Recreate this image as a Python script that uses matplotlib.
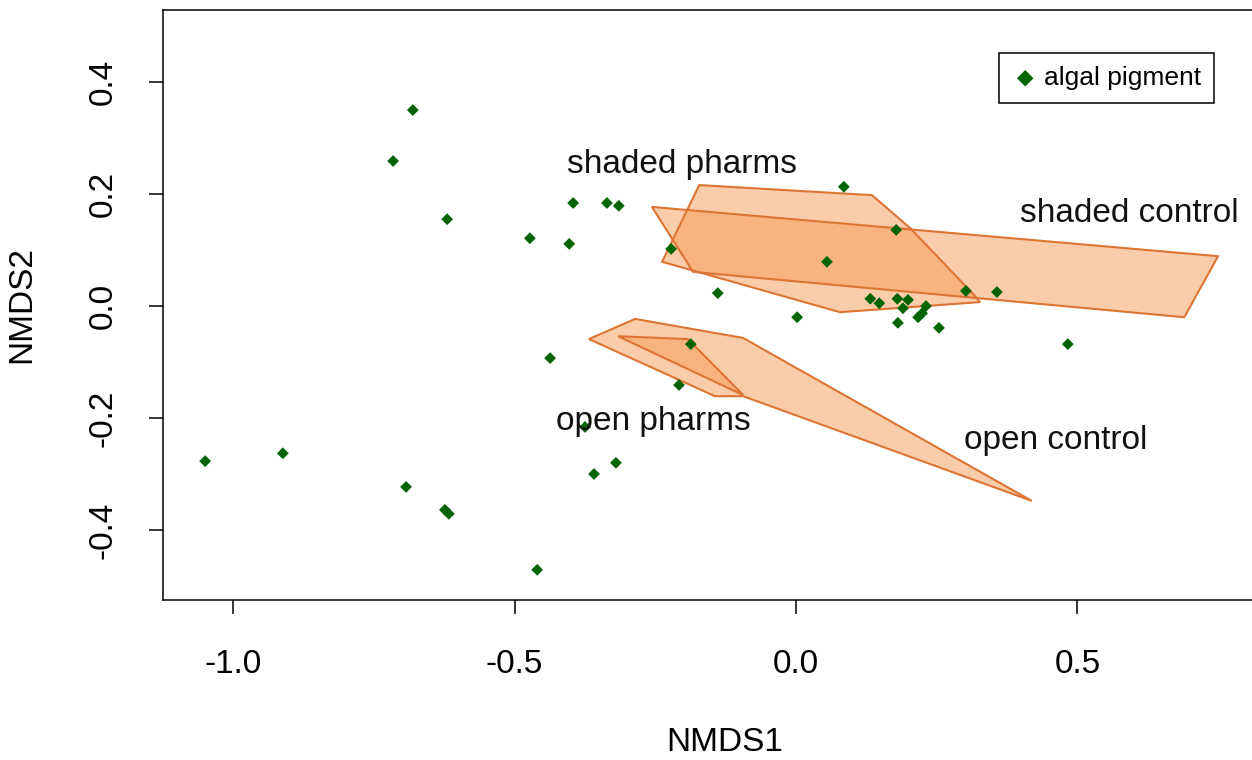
import matplotlib
matplotlib.use("Agg")
import matplotlib.pyplot as plt
from matplotlib.patches import Polygon

plt.rcParams["font.family"] = ["Liberation Sans", "DejaVu Sans"]
plt.rcParams["axes.unicode_minus"] = False

# site scores (algal pigment)
nmds1 = [-1.050, -0.912, -0.681, -0.716, -0.620, -0.693, -0.624, -0.617, -0.460,
         -0.473, -0.403, -0.396, -0.336, -0.315, -0.437, -0.375, -0.320, -0.359,
         -0.187, -0.208, -0.222, -0.139, 0.085, 0.178, 0.055, 0.002, 0.132,
         0.148, 0.180, 0.199, 0.190, 0.231, 0.224, 0.217, 0.181, 0.254,
         0.302, 0.357, 0.483]
nmds2 = [-0.277, -0.263, 0.350, 0.259, 0.155, -0.323, -0.364, -0.371, -0.471,
         0.121, 0.111, 0.184, 0.184, 0.179, -0.093, -0.216, -0.280, -0.300,
         -0.068, -0.141, 0.102, 0.023, 0.213, 0.136, 0.079, -0.020, 0.013,
         0.005, 0.013, 0.011, -0.004, 0.000, -0.013, -0.020, -0.030, -0.039,
         0.027, 0.025, -0.068]

# hull outlines per group
shaded_pharms = [(-0.172, 0.216), (0.135, 0.198), (0.203, 0.139), (0.318, 0.018),
                 (0.327, 0.007), (0.078, -0.011), (-0.238, 0.079)]
shaded_control = [(-0.256, 0.177), (0.750, 0.089), (0.690, -0.020), (-0.183, 0.061)]
open_control = [(-0.368, -0.059), (-0.286, -0.023), (-0.094, -0.057), (0.419, -0.348),
                (-0.094, -0.161), (-0.144, -0.161)]
open_pharms = [(-0.316, -0.054), (-0.192, -0.059), (-0.094, -0.159)]
hulls = [shaded_pharms, shaded_control, open_control, open_pharms]

group_labels = ["shaded pharms", "shaded control", "open pharms", "open control"]
label_x = [-0.203, 0.592, -0.254, 0.462]
label_y = [0.252, 0.166, -0.207, -0.241]

fig = plt.figure(figsize=(12.52, 7.6), dpi=100)
ax = fig.add_axes([0.1302, 0.2105, 0.8978, 0.7763])

for hull in hulls:
    ax.add_patch(Polygon(hull, closed=True, facecolor="#F99B55", alpha=0.5,
                         edgecolor="none", zorder=1))
    ax.add_patch(Polygon(hull, closed=True, facecolor="none",
                         edgecolor="#DC7534", linewidth=1.5, zorder=2))

ax.scatter(nmds1, nmds2, marker="D", s=36, color="#006400", edgecolors="none",
           zorder=3, label="algal pigment")

for lab, x, y in zip(group_labels, label_x, label_y):
    ax.text(x, y, lab, fontsize=24, ha="center", va="center", color="#111111", zorder=4)

ax.set_xlim(-1.1249, 0.8726)
ax.set_ylim(-0.525, 0.5286)
ax.set_xticks([-1.0, -0.5, 0.0, 0.5])
ax.set_xticklabels(["-1.0", "-0.5", "0.0", "0.5"])
ax.set_yticks([-0.4, -0.2, 0.0, 0.2, 0.4])
ax.set_yticklabels(["-0.4", "-0.2", "0.0", "0.2", "0.4"], rotation=90, va="center")
ax.tick_params(direction="out", length=10, width=1.1, labelsize=24)
ax.tick_params(axis="x", pad=25)
ax.tick_params(axis="y", pad=22)
for sp in ax.spines.values():
    sp.set_linewidth(1.1)

ax.set_xlabel("NMDS1", fontsize=24, labelpad=34)
ax.set_ylabel("NMDS2", fontsize=24, labelpad=36)

ax.legend(loc="upper right", bbox_to_anchor=(1214 / 1252, 1 - 53 / 760),
          bbox_transform=fig.transFigure, fontsize=19, fancybox=False,
          edgecolor="black", framealpha=1, borderaxespad=0, handletextpad=0.2,
          handlelength=1.0, borderpad=0.5, markerscale=1.4)
ax.get_legend().get_frame().set_linewidth(1.1)

fig.savefig("out.png", dpi=100)
